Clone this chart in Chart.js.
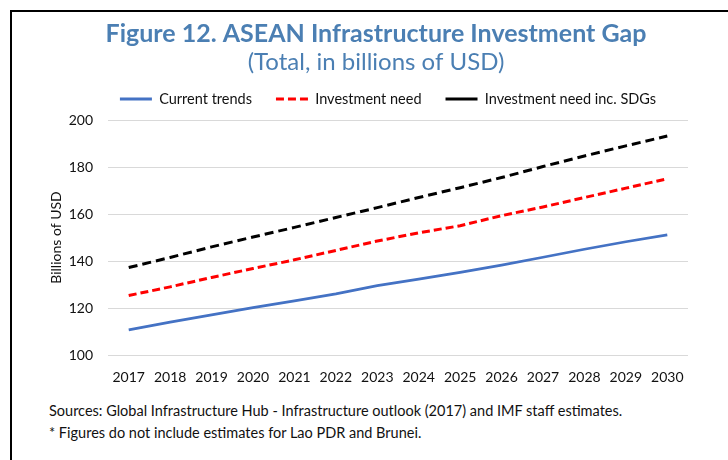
<!DOCTYPE html>
<html><head><meta charset="utf-8">
<script src="https://cdn.jsdelivr.net/npm/chart.js@4.4.1/dist/chart.umd.min.js"></script>
<style>
html,body{margin:0;padding:0;background:#fff;width:728px;height:460px;overflow:hidden;position:relative;font-family:Lato,sans-serif}
#frame{position:absolute;left:10px;top:10px;width:800px;height:500px;border-top:2px solid #000;border-left:2px solid #000;}
#c{position:absolute;left:0;top:0}
.note{position:absolute;left:49px;font-size:14.5px;color:#111;white-space:nowrap;line-height:18px}
</style></head><body>
<div id="frame"></div>
<canvas id="c" width="728" height="395"></canvas>
<div class="note" style="top:402px">Sources: Global Infrastructure Hub - Infrastructure outlook (2017) and IMF staff estimates.</div>
<div class="note" style="top:424px">* Figures do not include estimates for Lao PDR and Brunei.</div>
<script>
const years = ['2017','2018','2019','2020','2021','2022','2023','2024','2025','2026','2027','2028','2029','2030'];
const currentTrends = [110.7,114,117.1,120.2,123,126,129.5,132.3,135.2,138.2,141.6,145,148.2,151.1];
const investmentNeed = [125.3,129,133,136.8,140.5,144.5,148.5,152,155,159.3,163,167,171,175];
const investmentNeedSDGs = [137.2,141.5,146,150.2,154.3,158.5,162.7,167,171.2,175.5,180.2,184.7,189,193.2];
const yTicks = [100,120,140,160,180,200];
const seriesNames = ['Current trends','Investment need','Investment need inc. SDGs'];
const seriesColors = ['#4472C4','#FF0000','#000000'];

const legendShift = {id:'legendShift', afterLayout(chart){ const l = chart.legend; if(l){ l.left += 12; l.right += 12; } }};

new Chart(document.getElementById('c'), {
  type:'line',
  data:{
    labels: years,
    datasets:[
      {label:seriesNames[0], data:currentTrends, borderColor:seriesColors[0], backgroundColor:seriesColors[0], borderWidth:2.75, pointRadius:0, tension:0},
      {label:seriesNames[1], data:investmentNeed, borderColor:seriesColors[1], backgroundColor:seriesColors[1], borderWidth:3, borderDash:[8,4], pointRadius:0, tension:0},
      {label:seriesNames[2], data:investmentNeedSDGs, borderColor:seriesColors[2], backgroundColor:seriesColors[2], borderWidth:3, borderDash:[9,5], pointRadius:0, tension:0}
    ]
  },
  plugins:[legendShift],
  options:{
    responsive:false, animation:false, devicePixelRatio:1,
    layout:{padding:{left:48,right:24,top:0,bottom:0}},
    plugins:{
      title:{display:true, text:'Figure 12. ASEAN Infrastructure Investment Gap', color:'#4b7fb3',
        font:{family:'Lato', size:25, weight:'bold', lineHeight:1.2}, padding:{top:19,bottom:0}},
      subtitle:{display:true, text:'(Total, in billions of USD)', color:'#4b7fb3',
        font:{family:'Lato', size:24, weight:'normal', lineHeight:1.2}, padding:{top:-1.4,bottom:-8.65}},
      legend:{display:true, position:'top', maxHeight:52.25,
        labels:{usePointStyle:true, pointStyleWidth:32, padding:24, color:'#111',
          font:{family:'Lato', size:14.5},
          generateLabels: chart => chart.data.datasets.map((ds,i)=>({
            text: ds.label, strokeStyle: ds.borderColor, fillStyle: ds.borderColor, fontColor:'#111',
            lineWidth:3, lineDash: i===1 ? [8,4] : [], lineCap:'butt', pointStyle:'line', hidden:false, datasetIndex:i
          }))
        }
      },
      tooltip:{enabled:false}
    },
    scales:{
      x:{
        offset:true,
        grid:{display:false, drawTicks:false}, border:{display:false},
        ticks:{color:'#111', font:{family:'Lato', size:14}, padding:14, maxRotation:0, autoSkip:false},
        afterFit: s => { s.height = 40; }
      },
      x2:{
        type:'category', position:'top', display:true, grid:{display:false}, border:{display:false}, ticks:{display:false},
        afterFit: s => { s.height = 3.75; }
      },
      y:{
        min:100, max:200,
        afterBuildTicks: s => { s.ticks = yTicks.map(v => ({value:v})); },
        grid:{color:'#d9d9d9', lineWidth:1, drawTicks:false}, border:{display:false},
        ticks:{color:'#111', font:{family:'Lato', size:14}, padding:15},
        title:{display:true, text:'Billions of USD', color:'#111', font:{family:'Lato', size:14}, padding:0},
        afterFit: s => { s.width = 60; }
      },
      y2:{
        position:'right', display:true, grid:{display:false}, border:{display:false}, ticks:{display:false},
        afterFit: s => { s.width = 16; }
      }
    }
  }
});
</script>
</body></html>
